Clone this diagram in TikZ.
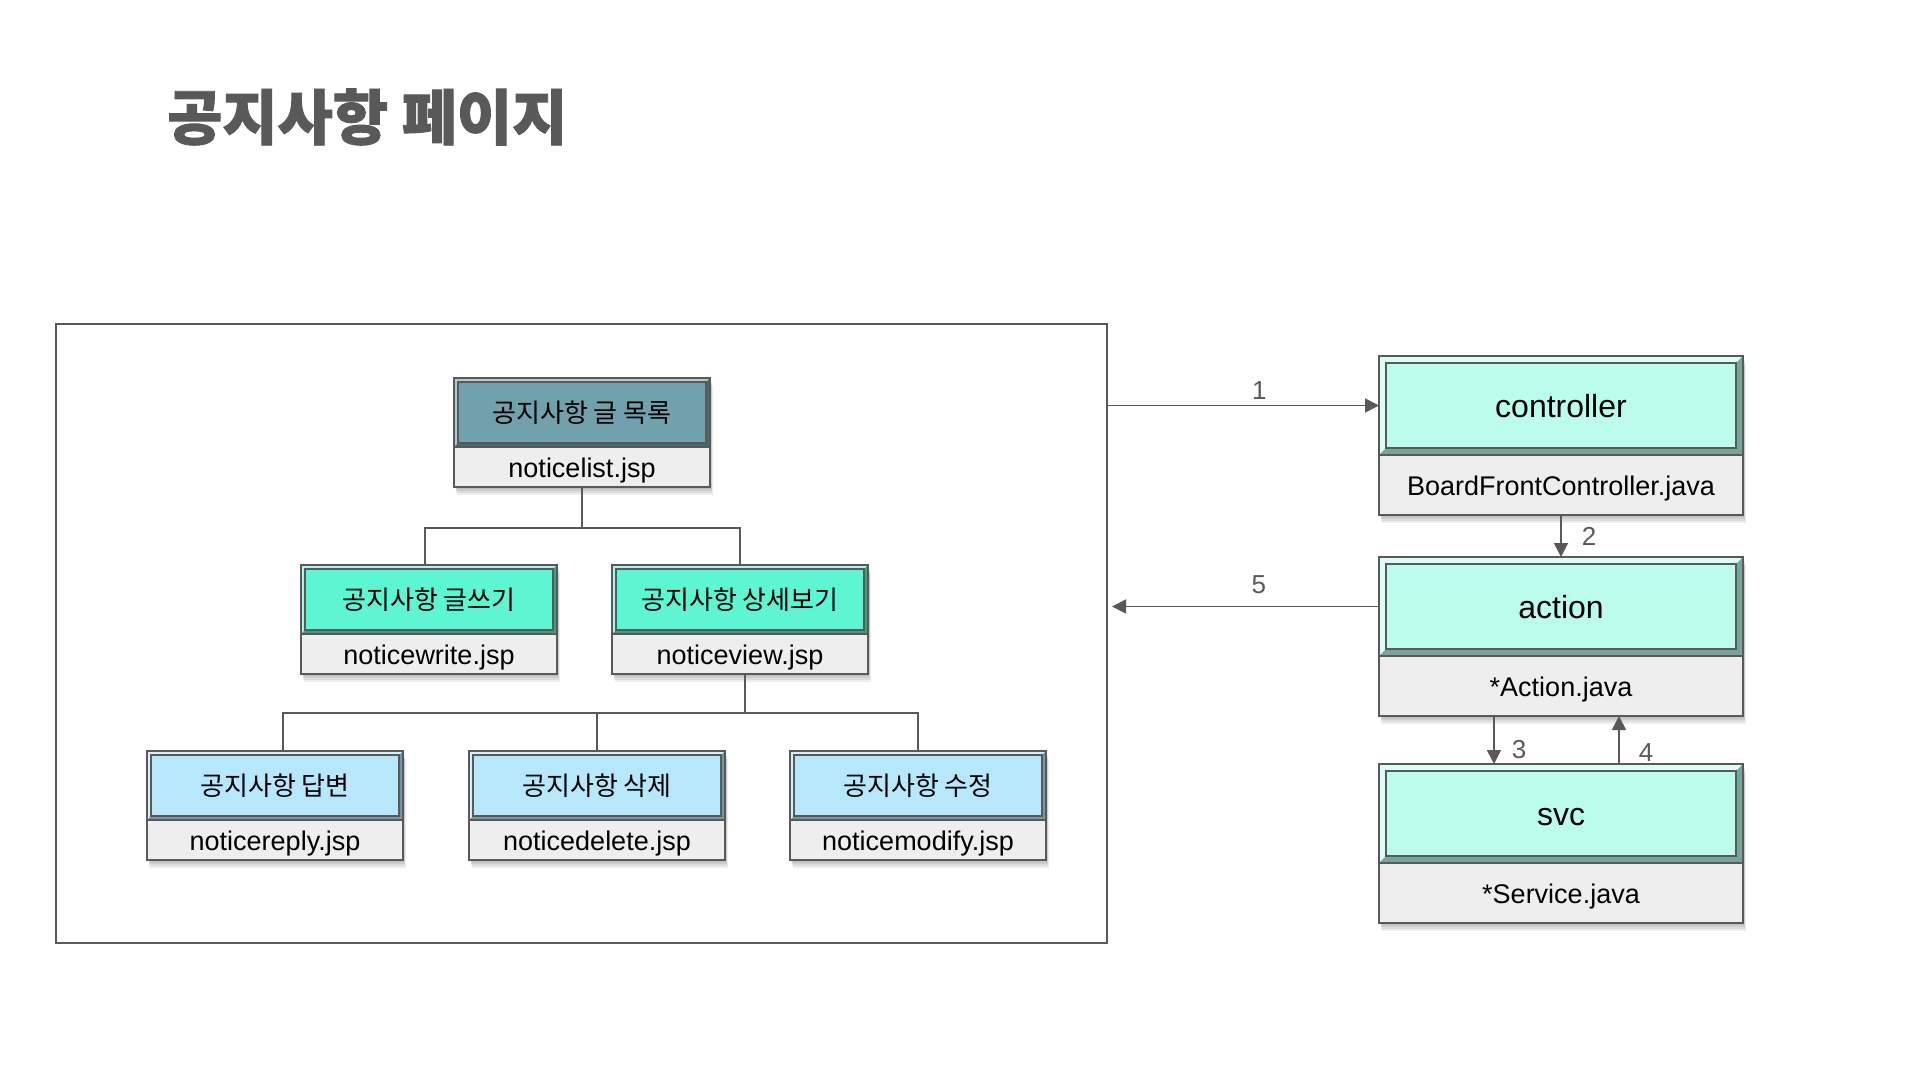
\documentclass[tikz,border=0pt]{standalone}
\usepackage{fontspec}
\setmainfont{Liberation Sans}
\newfontfamily\krfont{Noto Sans CJK KR}
\newfontfamily\titlefont[BoldFeatures={FakeBold=1.5}]{Noto Sans CJK KR}
\usetikzlibrary{arrows.meta,backgrounds}

\definecolor{linegray}{HTML}{595959}
\definecolor{listcol}{HTML}{70A1AD}
\definecolor{writecol}{HTML}{5EF5D2}
\definecolor{replycol}{HTML}{B6E7FB}
\definecolor{javacol}{HTML}{BCFCEC}
\definecolor{filecol}{HTML}{EEEEEE}

% header node + file node, with a soft shadow behind both
\newcommand{\pagebox}[7]{%
  \node[#4head, fill=#5, anchor=north] (#1) at (#2,#3) {#6};
  \node[#4file, anchor=north] (#1f) at (#1.south) {#7};
  \begin{pgfonlayer}{background}
    \foreach \s in {2,4,6,8}
      \fill[black, opacity=.07] ([shift={(\s*0.4pt,-\s pt)}]#1.north west) rectangle ([shift={(\s*0.4pt,-\s pt)}]#1f.south east);
  \end{pgfonlayer}
}

\begin{document}
\begin{tikzpicture}[x=1pt, y=-1pt,
		bevel/.style={path picture={
			\fill[white, opacity=.45] (path picture bounding box.south west) -- (path picture bounding box.north west) -- (path picture bounding box.north east) -- ([shift={(-#1pt,-#1pt)}]path picture bounding box.north east) -- ([shift={(#1pt,-#1pt)}]path picture bounding box.north west) -- ([shift={(#1pt,#1pt)}]path picture bounding box.south west) -- cycle;
			\fill[black, opacity=.35] (path picture bounding box.south west) -- (path picture bounding box.south east) -- (path picture bounding box.north east) -- ([shift={(-#1pt,-#1pt)}]path picture bounding box.north east) -- ([shift={(-#1pt,#1pt)}]path picture bounding box.south east) -- ([shift={(#1pt,#1pt)}]path picture bounding box.south west) -- cycle;
			\draw[linegray, line width=1.2pt] ([shift={(#1pt,-#1pt)}]path picture bounding box.north west) rectangle ([shift={(-#1pt,#1pt)}]path picture bounding box.south east);
		}},
		jsphead/.style={draw=linegray, line width=2pt, outer sep=0pt, minimum width=256pt, minimum height=69pt, inner sep=0pt, bevel=4, font=\krfont\fontsize{26}{30}\selectfont},
		jspfile/.style={draw=linegray, line width=2pt, outer sep=0pt, fill=filecol, minimum width=256pt, minimum height=40pt, inner sep=0pt, text height=20pt, text depth=0pt, font=\fontsize{27}{31}\selectfont},
		javahead/.style={draw=linegray, line width=2pt, outer sep=0pt, minimum width=364pt, minimum height=99pt, inner sep=0pt, bevel=7, text height=24pt, text depth=0pt, font=\fontsize{32}{37}\selectfont},
		javafile/.style={draw=linegray, line width=2pt, outer sep=0pt, fill=filecol, minimum width=364pt, minimum height=60pt, inner sep=0pt, text height=21pt, text depth=0pt, font=\fontsize{27}{31}\selectfont},
		tree/.style={draw=linegray, line width=2pt},
		arr/.style={draw=linegray, line width=1.8pt, -{Triangle[length=14pt, width=14pt]}},
		num/.style={text=linegray, inner sep=2pt, font=\fontsize{26}{30}\selectfont}
	]
	\useasboundingbox (0,0) rectangle (1920,1080);
	
	\node[anchor=west, inner sep=0pt, text=linegray, font=\titlefont\bfseries\fontsize{60}{68}\selectfont] (title) at (167,117) {공지사항 페이지};
	
	\node[draw=linegray, line width=2pt, minimum width=1051pt, minimum height=619pt, inner sep=0pt, outer sep=0pt, anchor=north west] (frame) at (56,324) {};
	
	\pagebox{list}{582}{378}{jsp}{listcol}{공지사항 글 목록}{noticelist.jsp}
	\pagebox{write}{429}{565}{jsp}{writecol}{공지사항 글쓰기}{noticewrite.jsp}
	\pagebox{view}{740}{565}{jsp}{writecol}{공지사항 상세보기}{noticeview.jsp}
	\pagebox{reply}{275}{751}{jsp}{replycol}{공지사항 답변}{noticereply.jsp}
	\pagebox{delete}{597}{751}{jsp}{replycol}{공지사항 삭제}{noticedelete.jsp}
	\pagebox{modify}{918}{751}{jsp}{replycol}{공지사항 수정}{noticemodify.jsp}
	
	\pagebox{ctrl}{1561}{356}{java}{javacol}{controller}{BoardFrontController.java}
	\pagebox{act}{1561}{557}{java}{javacol}{action}{*Action.java}
	\pagebox{svc}{1561}{764}{java}{javacol}{svc}{*Service.java}
	
	% tree
	\draw[tree] (listf.south) -- ++(0,41) coordinate (fork1);
	\draw[tree] (fork1) -| ([xshift=-4pt]write.north);
	\draw[tree] (fork1) -| (view.north);
	\draw[tree] ([xshift=5pt]viewf.south) -- ++(0,39) coordinate (fork2);
	\draw[tree] (fork2) -| ([xshift=8pt]reply.north);
	\draw[tree] (fork2) -| (delete.north);
	\draw[tree] (fork2) -| (modify.north);
	
	% flow
	\draw[arr] (frame.east |- ctrl.west) -- node[num, above=3pt, pos=.56] {1} (ctrl.west);
	\draw[arr] (ctrlf.south) -- node[num, right=18pt] {2} (act.north);
	\draw[arr] ([xshift=-67pt]actf.south) -- node[num, right=15pt, pos=.7] {3} ([xshift=-67pt]svc.north);
	\draw[arr] ([xshift=58pt]svc.north) -- node[num, right=17pt, pos=.23] {4} ([xshift=58pt]actf.south);
	\draw[arr] (act.west) -- node[num, above=10pt, pos=.45] {5} ([xshift=5pt]frame.east |- act.west);
\end{tikzpicture}
\end{document}
